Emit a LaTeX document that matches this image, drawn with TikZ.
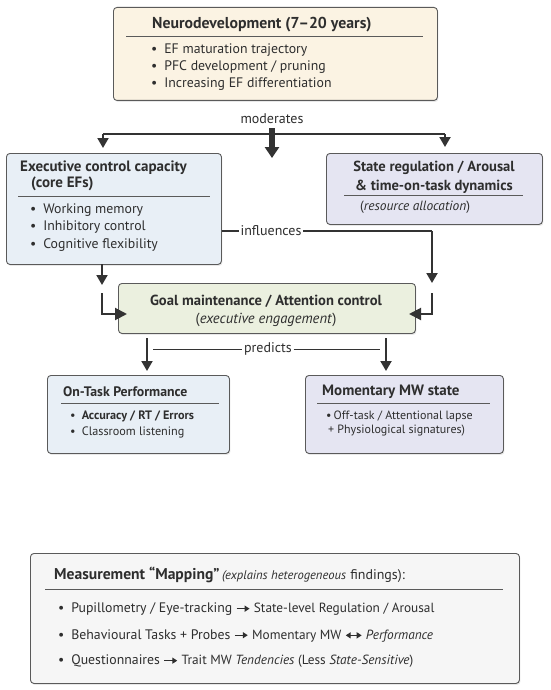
\documentclass[tikz,border=0pt]{standalone}
\usepackage{fontspec}
\setmainfont{PT Sans}
\usetikzlibrary{arrows.meta,shadows}
\definecolor{edge}{HTML}{5A5A5A}
\definecolor{ink}{HTML}{2E2E2E}
\definecolor{arr}{HTML}{333333}
\definecolor{beige}{HTML}{FBF3E3}
\definecolor{blueb}{HTML}{E8EFF6}
\definecolor{lav}{HTML}{E5E5F2}
\definecolor{greenb}{HTML}{EBF0DF}
\definecolor{greyb}{HTML}{F6F6F6}
\newcommand\rarr{\tikz[baseline=-0.55ex]\draw[line width=1.3pt,-{Triangle[length=5pt,width=6pt]}](0pt,0pt)--(13pt,0pt);}
\newcommand\lrarr{\tikz[baseline=-0.55ex]\draw[line width=1.3pt,{Triangle[length=5pt,width=6pt]}-{Triangle[length=5pt,width=6pt]}](0pt,0pt)--(16pt,0pt);}
\begin{document}
\begin{tikzpicture}[x=1pt,y=-1pt,
  box/.style={draw=edge,line width=0.9pt,rounded corners=3.5pt,anchor=north west,inner sep=0pt,
     drop shadow={shadow xshift=1pt,shadow yshift=-1.5pt,opacity=0.18}},
  hrule/.style={draw=edge,line width=0.8pt},
  ttl/.style={text=ink,inner sep=0pt,font=\fontsize{15}{17}\selectfont\bfseries},
  txt/.style={text=ink,inner sep=0pt,align=left,font=\fontsize{13.8}{17.5}\selectfont},
  lbl/.style={text=ink,inner sep=1.5pt,font=\fontsize{14}{15}\selectfont},
  conn/.style={draw=arr,line width=2pt,-{Triangle[length=10pt,width=11pt]}},
  plain/.style={draw=arr,line width=1.8pt},
  thin/.style={draw=arr,line width=1pt}]
\useasboundingbox (0,0) rectangle (550,690);
\fill[white] (0,0) rectangle (550,690);

% ---------- boxes ----------
\node[box,fill=beige,minimum width=324pt,minimum height=93pt] (neuro) at (113,7) {};
\node[box,fill=blueb,minimum width=215pt,minimum height=111pt] (exec) at (6,153) {};
\node[box,fill=lav,minimum width=216pt,minimum height=71pt] (state) at (326,153) {};
\node[box,fill=greenb,minimum width=297pt,minimum height=50pt] (goal) at (118,283) {};
\node[box,fill=blueb,minimum width=182pt,minimum height=78pt] (ontask) at (47,375) {};
\node[box,fill=lav,minimum width=198pt,minimum height=78pt] (mw) at (305,375) {};
\node[box,fill=greyb,minimum width=489pt,minimum height=130pt] (meas) at (30,553) {};

% ---------- neurodevelopment ----------
\node[ttl,anchor=west] (neuroT) at (152,25) {\fontsize{15.8}{17}\selectfont Neurodevelopment (7--20 years)};
\draw[hrule] (126,36) -- (423,36);
\node[txt,anchor=west,font=\fontsize{13.8}{16.8}\selectfont] (neuroL) at (151,67) {\textbullet\enspace EF maturation trajectory\\\textbullet\enspace PFC development / pruning\\\textbullet\enspace Increasing EF differentiation};

% ---------- executive ----------
\node[ttl,anchor=west,align=left,font=\fontsize{15}{16}\selectfont\bfseries] (execT) at (20,176) {Executive control capacity\\\hspace*{11pt}(core EFs)};
\draw[hrule] (18,196) -- (210,196);
\node[txt,anchor=west] (execL) at (30,227.5) {\textbullet\enspace Working memory\\\textbullet\enspace Inhibitory control\\\textbullet\enspace Cognitive flexibility};

% ---------- state ----------
\node[ttl,align=center,font=\fontsize{14.6}{19}\selectfont\bfseries] (stateT) at (434,177) {State regulation / Arousal\\\& time-on-task dynamics};
\draw[hrule] (344,195) -- (523,195);
\node[txt,anchor=west,font=\fontsize{13.4}{16}\selectfont] (stateS) at (360,207) {(\textit{resource allocation})};

% ---------- goal ----------
\node[text=ink,inner sep=0pt,align=center,font=\fontsize{14.6}{18.5}\selectfont] (goalT) at (266,311) {\textbf{Goal maintenance / Attention control}\\(\textit{executive engagement})};

% ---------- on-task ----------
\node[ttl,anchor=west,font=\fontsize{13.8}{16}\selectfont\bfseries] (onT) at (63,392) {On-Task Performance};
\draw[hrule] (61,403) -- (219,403);
\node[txt,anchor=west,font=\fontsize{12.2}{15.5}\selectfont] (onL) at (70,424.5) {\textbullet\enspace\textbf{Accuracy / RT / Errors}\\\textbullet\enspace Classroom listening};

% ---------- momentary ----------
\node[ttl,anchor=west,font=\fontsize{15}{16}\selectfont\bfseries] (mwT) at (322,392) {Momentary MW state};
\draw[hrule] (317,403) -- (490,403);
\node[txt,anchor=west,font=\fontsize{12}{14}\selectfont] (mwL) at (326,423.5) {\textbullet\,Off-task / Attentional lapse\\\hspace*{2pt}+ Physiological signatures)};

% ---------- measurement ----------
\node[text=ink,inner sep=0pt,anchor=west] (measT) at (54,575) {\fontsize{15.6}{17}\selectfont\textbf{Measurement “Mapping”}\,{\fontsize{12.6}{14}\selectfont\itshape(explains heterogeneous} \fontsize{14}{17}\selectfont findings):};
\draw[hrule] (45,589) -- (503,589);
\node[txt,anchor=west,font=\fontsize{13.8}{15}\selectfont] (m1) at (58,609) {\textbullet\enspace Pupillometry / Eye-tracking \rarr\ {\fontsize{13.3}{15}\selectfont State-level Regulation / Arousal}};
\node[txt,anchor=west,font=\fontsize{13.8}{15}\selectfont] (m2) at (58,635.5) {\textbullet\enspace Behavioural Tasks + Probes \rarr\ {\fontsize{13.3}{15}\selectfont Momentary MW \lrarr\ \textit{Performance}}};
\node[txt,anchor=west,font=\fontsize{13.8}{15}\selectfont] (m3) at (58,661) {\textbullet\enspace Questionnaires \rarr\ {\fontsize{13.3}{15}\selectfont Trait MW \textit{Tendencies} (Less \textit{State-Sensitive})}};

% ---------- moderates ----------
\node[lbl] (modT) at (272,119) {moderates};
\coordinate (modL) at (103,134);
\coordinate (modR) at (445,134);
\coordinate (modC) at (272,128);
\draw[plain] (modL) -- (modR);
\draw[conn] (modL) -- (modL |- 0,148);
\draw[conn] (modR) -- (modR |- 0,147);
\draw[draw=arr,line width=6.5pt,-{Triangle[length=11pt,width=14pt]}] (modC) -- (272,158);

% ---------- influences ----------
\node[lbl] (inflT) at (271,231) {influences};
\coordinate (inflR) at (432,231);
\draw[plain] (exec.east |- inflT) -- (inflT.west);
\draw[plain] (inflT.east) -- (inflR);
\draw[conn] (inflR) -- (432,283);

% exec -> goal
\coordinate (eL) at (102,264);
\draw[conn] (eL) -- (102,285);
\coordinate (elA) at (102,293);
\coordinate (elB) at (102,314);
\draw[draw=arr,line width=2pt,-{Triangle[length=12pt,width=12pt]}] (elA) -- (elB) -- (127,314);
\coordinate (erA) at (432,293);
\coordinate (erB) at (432,314);
\draw[draw=arr,line width=2pt,-{Triangle[length=12pt,width=12pt]}] (erA) -- (erB) -- (409,314);

% ---------- predicts ----------
\node[lbl] (predT) at (268,349) {predicts};
\coordinate (pL) at (147,338);
\coordinate (pR) at (386,338);
\draw[conn] (pL) -- (147,371);
\draw[conn] (pR) -- (386,371);
\draw[thin] (153,349) -- (predT.west);
\draw[thin] (predT.east) -- (380,349);
\end{tikzpicture}
\end{document}
